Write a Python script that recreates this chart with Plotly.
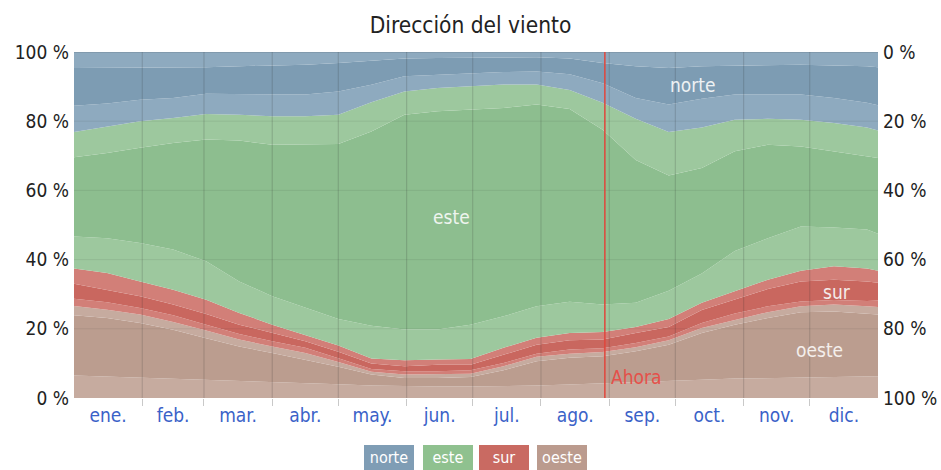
import plotly.graph_objects as go

# ---------------- data (percent, cumulative band tops) ----------------
days = [0, 15, 30, 45, 60, 75, 90, 105, 120, 135, 150, 165, 180, 195, 210, 225,
        240, 255, 270, 285, 300, 315, 330, 345, 360, 365]

# oeste (lower half of noroeste) top
oeste_nw = [6.5, 6.2, 5.9, 5.6, 5.3, 5.0, 4.8, 4.5, 4.0, 3.6, 3.4, 3.3, 3.3, 3.4, 3.6, 3.9,
            4.3, 4.7, 5.0, 5.3, 5.6, 5.8, 6.0, 6.1, 6.2, 6.3]
# pure oeste top
oeste = [23.9, 23.1, 21.7, 19.7, 17.3, 14.9, 13.0, 11.1, 9.0, 6.8, 5.8, 5.8, 6.1, 8.0, 10.6, 11.6,
         12.1, 13.5, 15.4, 18.8, 21.2, 23.1, 24.8, 25.0, 24.4, 24.1]
# oeste half of suroeste top
oeste_sw = [26.6, 25.5, 24.1, 22.0, 19.5, 16.9, 14.9, 13.0, 10.4, 7.6, 6.8, 6.8, 7.0, 9.2, 11.9, 12.8,
            13.3, 14.7, 16.7, 20.2, 22.6, 24.8, 26.5, 27.0, 26.5, 26.3]
# sur half of suroeste top
sur_sw = [28.7, 27.7, 26.0, 23.9, 21.2, 18.5, 16.4, 14.5, 11.5, 8.4, 7.7, 7.7, 8.0, 10.1, 12.8, 14.0,
          14.4, 15.9, 17.8, 21.7, 24.4, 26.5, 27.9, 28.3, 28.0, 28.2]
# pure sur top
sur = [33.0, 31.3, 29.4, 27.0, 24.3, 21.2, 18.8, 16.4, 13.4, 10.0, 9.2, 9.6, 9.6, 12.5, 15.4, 16.7,
       16.9, 18.8, 20.5, 25.4, 28.4, 31.5, 33.7, 34.2, 33.7, 33.3]
# sur half of sureste top
sur_se = [37.4, 36.1, 33.7, 31.3, 28.4, 24.6, 21.2, 18.3, 15.2, 11.4, 10.9, 11.1, 11.3, 14.5, 17.4, 18.8,
          19.1, 20.5, 22.8, 27.5, 30.8, 34.2, 36.8, 38.1, 37.4, 36.8]
# este half of sureste top
este_se = [46.7, 46.2, 44.8, 42.9, 39.5, 33.7, 29.4, 26.0, 22.8, 20.9, 19.8, 19.8, 21.2, 23.6, 26.5, 27.8,
           27.0, 27.5, 31.0, 36.0, 42.5, 46.2, 49.6, 49.3, 48.7, 47.5]
# pure este top
este = [69.6, 70.8, 72.3, 73.7, 74.7, 74.4, 73.2, 73.4, 73.4, 77.0, 81.9, 82.9, 83.3, 83.8, 84.8, 83.5,
        77.5, 68.8, 64.3, 66.5, 71.3, 73.2, 72.7, 71.3, 69.8, 69.4]
# este half of noreste top
este_ne = [76.9, 78.5, 80.0, 80.9, 82.1, 81.9, 81.4, 81.4, 81.9, 85.5, 88.6, 89.6, 90.1, 90.6, 90.6, 89.0,
           85.3, 80.7, 76.9, 78.2, 80.4, 80.7, 80.4, 79.5, 78.2, 77.3]
# norte half of noreste top
norte_ne = [84.5, 85.1, 86.2, 86.7, 87.9, 87.9, 87.7, 87.7, 88.6, 90.5, 93.0, 93.4, 93.9, 94.2, 94.4, 93.6,
            91.0, 86.7, 84.8, 86.5, 87.7, 87.7, 87.7, 86.7, 85.3, 84.6]
# pure norte top
norte = [95.4, 95.4, 95.6, 95.6, 95.6, 95.9, 96.1, 96.3, 96.8, 97.5, 98.1, 98.3, 98.3, 98.5, 98.5, 98.1,
         96.8, 95.9, 95.4, 95.9, 96.1, 96.3, 96.3, 96.1, 95.9, 95.6]
# norte half of noroeste top (always 100 %)
total = [100.0] * len(days)

month_labels = ["ene.", "feb.", "mar.", "abr.", "may.", "jun.", "jul.", "ago.", "sep.", "oct.", "nov.", "dic."]
month_lengths = [31, 28, 31, 30, 31, 30, 31, 31, 30, 31, 30, 31]
ahora_day = 241

y_ticks = [0, 20, 40, 60, 80, 100]
y_ticktext = ["0 %", "20 %", "40 %", "60 %", "80 %", "100 %"]

series_labels = ["norte", "este", "sur", "oeste"]

# ---------------- styling ----------------
FONT = "DejaVu Sans Condensed, Liberation Sans Narrow, sans-serif"
C = {
    "norte": "#7d9cb3", "norte_l": "#8eaabf",
    "este": "#8dbe8f", "este_l": "#9dc89e",
    "sur": "#c9675f", "sur_l": "#d27f78",
    "oeste": "#bb9d8f", "oeste_l": "#c6ab9f",
}
legend_colors = {"norte": "#7f9db5", "este": "#8fc18f", "sur": "#c96a62", "oeste": "#bb9b8e"}

bands = [
    (oeste_nw, C["oeste_l"]), (oeste, C["oeste"]), (oeste_sw, C["oeste_l"]),
    (sur_sw, C["sur_l"]), (sur, C["sur"]), (sur_se, C["sur_l"]),
    (este_se, C["este_l"]), (este, C["este"]), (este_ne, C["este_l"]),
    (norte_ne, C["norte_l"]), (norte, C["norte"]), (total, C["norte_l"]),
]

fig = go.Figure()
for i, (top, col) in enumerate(bands):
    fig.add_trace(go.Scatter(
        x=days, y=top, mode="lines", line=dict(width=0, color=col),
        fill="tozeroy" if i == 0 else "tonexty", fillcolor=col,
        hoverinfo="skip", showlegend=False,
    ))

# invisible trace for right axis
fig.add_trace(go.Scatter(x=[0], y=[0], yaxis="y2", mode="markers",
                         marker=dict(opacity=0), hoverinfo="skip", showlegend=False))

# month boundaries / centers
starts = [0]
for m in month_lengths[:-1]:
    starts.append(starts[-1] + m)
centers = [s + m / 2 for s, m in zip(starts, month_lengths)]
boundaries = starts[1:]

shapes = []
for b in boundaries:
    shapes.append(dict(type="line", xref="x", yref="y", x0=b, x1=b, y0=0, y1=100,
                       line=dict(color="rgba(40,40,40,0.17)", width=1.2), layer="above"))
for g in [20, 40, 60, 80]:
    shapes.append(dict(type="line", xref="x", yref="y", x0=0, x1=365, y0=g, y1=g,
                       line=dict(color="rgba(40,40,40,0.09)", width=1), layer="above"))
shapes.append(dict(type="line", xref="x", yref="y", x0=0, x1=365, y0=100, y1=100,
                   line=dict(color="rgba(0,0,0,0.12)", width=1.5), layer="above"))
shapes.append(dict(type="line", xref="x", yref="y", x0=ahora_day, x1=ahora_day, y0=0, y1=100,
                   line=dict(color="#e0463c", width=1.5), layer="above"))

annotations = [
    dict(x=ahora_day, y=6, xref="x", yref="y", text="Ahora", showarrow=False,
         xanchor="left", yanchor="middle", xshift=4, font=dict(family=FONT, size=19, color="#e5504a")),
    dict(x=281, y=90.6, xref="x", yref="y", text="norte", showarrow=False,
         font=dict(family=FONT, size=19, color="#edf1f3")),
    dict(x=171.5, y=52.2, xref="x", yref="y", text="este", showarrow=False,
         font=dict(family=FONT, size=19, color="#eef4ee")),
    dict(x=346.5, y=30.7, xref="x", yref="y", text="sur", showarrow=False,
         font=dict(family=FONT, size=19, color="#f4ecea")),
    dict(x=338.5, y=14.0, xref="x", yref="y", text="oeste", showarrow=False,
         font=dict(family=FONT, size=19, color="#f4efec")),
]
legend_x = [0.392, 0.465, 0.535, 0.607]
for lx, name in zip(legend_x, series_labels):
    annotations.append(dict(
        x=lx, y=-0.172, xref="paper", yref="paper", text=name, showarrow=False,
        xanchor="center", yanchor="middle", bgcolor=legend_colors[name], borderpad=2,
        bordercolor=legend_colors[name], borderwidth=1, width=44, align="center",
        font=dict(family=FONT, size=16, color="white")))

fig.update_layout(
    width=941, height=470,
    margin=dict(l=74, r=63, t=52, b=72),
    paper_bgcolor="white", plot_bgcolor="white",
    title=dict(text="Dirección del viento", x=0.5, xanchor="center", y=0.947, yanchor="middle",
               yref="container", font=dict(family=FONT, size=22.5, color="#222")),
    font=dict(family=FONT, color="#222"),
    shapes=shapes, annotations=annotations,
    xaxis=dict(range=[0, 365], showgrid=False, zeroline=False, showline=False, automargin=False,
               tickmode="array", tickvals=centers, ticktext=month_labels, ticks="",
               ticklabelstandoff=4,
               tickfont=dict(family=FONT, size=19, color="#3a62c8"),
               minor=dict(tickmode="array", tickvals=boundaries, ticks="outside",
                          ticklen=7, tickcolor="rgba(40,40,40,0.25)", tickwidth=1, showgrid=False)),
    yaxis=dict(range=[0, 100], showgrid=False, zeroline=False, showline=False, automargin=False,
               tickmode="array", tickvals=y_ticks, ticktext=y_ticktext, ticklabelstandoff=4,
               ticks="", tickfont=dict(family=FONT, size=19, color="#222")),
    yaxis2=dict(range=[100, 0], overlaying="y", side="right", showgrid=False, zeroline=False,
                showline=False, automargin=False, tickmode="array", tickvals=y_ticks,
                ticktext=y_ticktext, ticks="", ticklabelstandoff=4,
                tickfont=dict(family=FONT, size=19, color="#222")),
)

fig.write_html("out.html", config={"displayModeBar": False},
               post_script="document.body.style.margin='0px';")
